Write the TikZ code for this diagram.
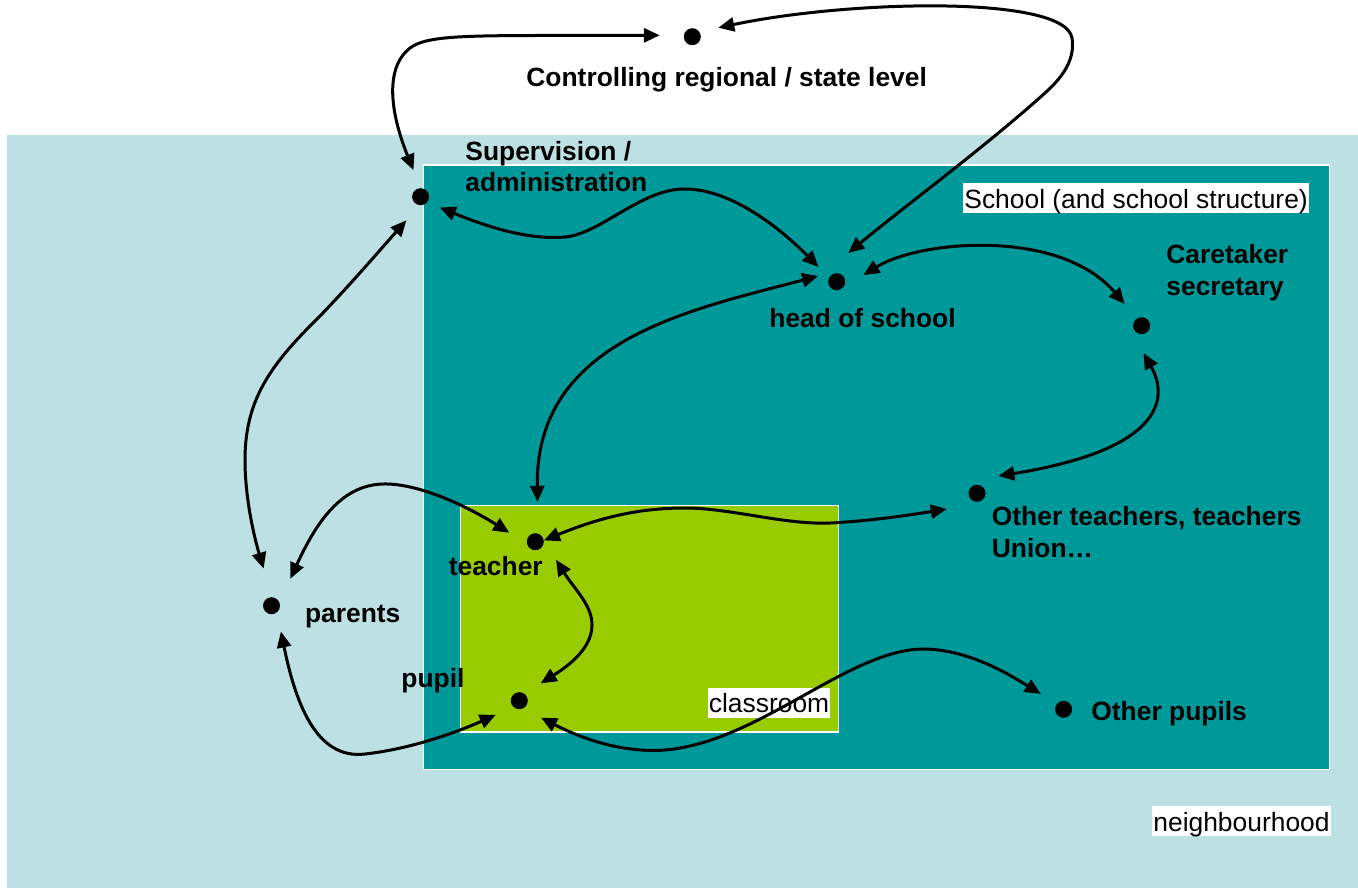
\documentclass[tikz,border=0pt]{standalone}
\usepackage{fontspec}
\setmainfont{Liberation Sans}
\usetikzlibrary{arrows.meta}
\definecolor{nbh}{RGB}{188,224,227}
\definecolor{sch}{RGB}{0,153,153}
\definecolor{cls}{RGB}{153,204,0}
\begin{document}
\begin{tikzpicture}[x=0.5pt,y=-0.5pt,
  dot/.style={circle,fill=black,inner sep=0pt,minimum size=8.5pt,outer sep=9.5pt},
  lbl/.style={font=\fontsize{13.2pt}{15.8pt}\selectfont\bfseries,inner sep=0pt,align=left,anchor=base west},
  tag/.style={font=\fontsize{13.2pt}{15.8pt}\selectfont,fill=white,inner xsep=0.5pt,inner ysep=0pt,text height=12.5pt,text depth=2.5pt,anchor=north west},
  arr/.style={line width=1.5pt,arrows={Triangle[length=8pt,width=7pt]-Triangle[length=8pt,width=7pt]}},
  area/.style={draw=white,line width=0.75pt}]
\useasboundingbox (0,0) rectangle (1358,888);
% areas
\fill[nbh] (7,135) rectangle (1358,888);
\filldraw[area,fill=sch] (423.5,165) rectangle (1329.5,769.5);
\filldraw[area,fill=cls] (460.5,505.5) rectangle (838.5,732);
\node[tag] (schooltag) at (963,183) {School (and school structure)};
\node[tag] (classtag) at (707.5,687.5) {classroom};
\node[tag] (nbhtag) at (1152,806) {neighbourhood};
% dots
\node[dot] (ctl) at (692.3,36.7) {};
\node[dot] (sup) at (420.6,196.7) {};
\node[dot] (head) at (836.7,281.7) {};
\node[dot] (care) at (1141.6,325.7) {};
\node[dot] (ot) at (977,493.3) {};
\node[dot] (teacher) at (535.3,541.7) {};
\node[dot] (parents) at (271.5,605.7) {};
\node[dot] (pupil) at (519.3,700.7) {};
\node[dot] (op) at (1063.6,709.3) {};
% labels (base = baseline of the last line)
\node[lbl] (ctltext) at (526,87) {Controlling regional / state level};
\node[lbl] (suptext) at (465,191.7) {Supervision /\\administration};
\node[lbl] (headtext) at (769,327) {head of school};
\node[lbl] (caretext) at (1166,295) {Caretaker\\secretary};
\node[lbl] (ottext) at (991.5,557.3) {Other teachers, teachers\\Union…};
\node[lbl] (teachtext) at (448.4,575) {teacher};
\node[lbl] (partext) at (304.6,622.7) {parents};
\node[lbl] (puptext) at (401,687.7) {pupil};
\node[lbl] (optext) at (1091,720.7) {Other pupils};
% connectors
\draw[arr,shorten >=2.5pt] (sup.105) .. controls (393,120) and (382,70) .. (410,48)
   .. controls (430,33) and (480,36) .. (ctl.177);
\draw[arr,shorten >=2pt] (ctl.19) .. controls (850,0) and (1065,-5) .. (1072,38)
   .. controls (1075,58) and (1065,75) .. (1045,93)
   .. controls (985,147) and (905,206) .. (head.72);
\draw[arr,shorten <=-2.75pt,shorten >=-2pt] (sup.-28) .. controls (490,228) and (530,240) .. (565,237)
   .. controls (600,234) and (640,190) .. (683,189)
   .. controls (730,188) and (780,228) .. (head.140);
\draw[arr] (head.14) .. controls (920,240) and (1060,228) .. (care.128);
\draw[arr,shorten <=-4.5pt,shorten >=6.25pt] (head.173) .. controls (690,310) and (535,340) .. (teacher.85);
\draw[arr] (care.-86) .. controls (1170,400) and (1160,450) .. (ot.39);
\draw[arr,shorten <=-9.5pt,shorten >=3.5pt] (teacher.18) .. controls (601,517) and (640,508) .. (685,508)
   .. controls (730,508) and (785,525) .. (830,523)
   .. controls (870,521) and (910,515) .. (ot.212);
\draw[arr,shorten >=5.25pt] (sup.239) .. controls (380,250) and (350,285) .. (320,316)
   .. controls (270,365) and (245,400) .. (245,460)
   .. controls (245,500) and (255,540) .. (parents.100);
\draw[arr,shorten <=2.75pt] (parents.53) .. controls (315,525) and (340,485) .. (383,484)
   .. controls (420,483) and (470,508) .. (teacher.161);
\draw[arr] (teacher.-41) .. controls (575,590) and (592,605) .. (592,625)
   .. controls (592,650) and (565,668) .. (pupil.39);
\draw[arr] (parents.-70) .. controls (295,700) and (315,760) .. (365,754)
   .. controls (410,749) and (455,733) .. (pupil.211);
\draw[arr] (pupil.-38) .. controls (600,748) and (640,752) .. (665,750)
   .. controls (760,742) and (850,648) .. (925,649)
   .. controls (970,650) and (1010,675) .. (op.146);
\end{tikzpicture}
\end{document}
